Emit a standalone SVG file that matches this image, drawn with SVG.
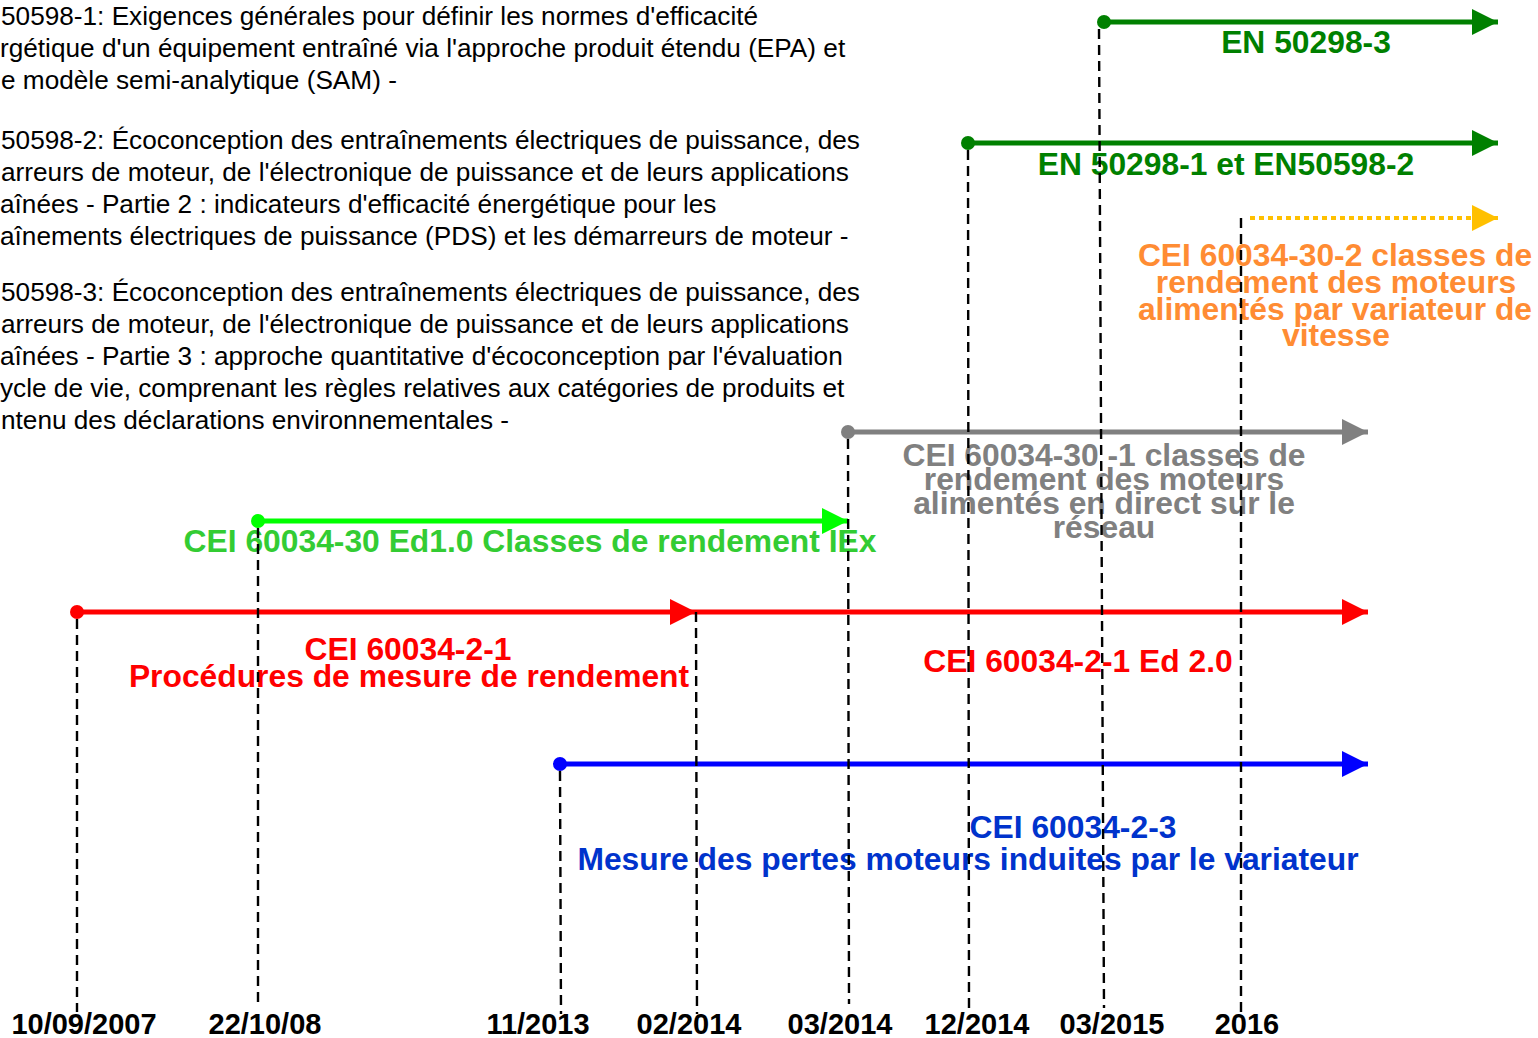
<svg xmlns="http://www.w3.org/2000/svg" width="1538" height="1038" viewBox="0 0 1538 1038">
  <style>
    .note { font-family: "Liberation Sans", Arial, sans-serif; font-size: 26.2px; fill: #000000; }
    .lbl { font-family: "Liberation Sans", Arial, sans-serif; font-weight: bold; font-size: 31.8px; text-anchor: middle; }
    .date { font-family: "Liberation Sans", Arial, sans-serif; font-weight: bold; font-size: 29px; text-anchor: middle; fill: #000000; }
    .bar { stroke-width: 5; fill: none; }
    .guide { stroke: #000000; stroke-width: 2.4; stroke-dasharray: 10 6; fill: none; }
  </style>
  <defs>
    <marker id="head-dkgreen" markerUnits="userSpaceOnUse" markerWidth="28" markerHeight="26" refX="26" refY="13" orient="auto"><path d="M0,0 L26,13 L0,26 Z" fill="#008000"/></marker>
    <marker id="head-yellow" markerUnits="userSpaceOnUse" markerWidth="28" markerHeight="26" refX="26" refY="13" orient="auto"><path d="M0,0 L26,13 L0,26 Z" fill="#FFC000"/></marker>
    <marker id="head-gray" markerUnits="userSpaceOnUse" markerWidth="28" markerHeight="26" refX="26" refY="13" orient="auto"><path d="M0,0 L26,13 L0,26 Z" fill="#808080"/></marker>
    <marker id="head-lime" markerUnits="userSpaceOnUse" markerWidth="28" markerHeight="26" refX="26" refY="13" orient="auto"><path d="M0,0 L26,13 L0,26 Z" fill="#00FF00"/></marker>
    <marker id="head-red" markerUnits="userSpaceOnUse" markerWidth="28" markerHeight="26" refX="26" refY="13" orient="auto"><path d="M0,0 L26,13 L0,26 Z" fill="#FF0000"/></marker>
    <marker id="head-blue" markerUnits="userSpaceOnUse" markerWidth="28" markerHeight="26" refX="26" refY="13" orient="auto"><path d="M0,0 L26,13 L0,26 Z" fill="#0000FF"/></marker>
  </defs>

  <rect x="0" y="0" width="1538" height="1038" fill="#FFFFFF"/>

  <!-- descriptive notes, top left -->
  <g id="notes">
    <text class="note" x="1" y="25">50598-1: Exigences générales pour définir les normes d'efficacité</text>
    <text class="note" x="0" y="57">rgétique d'un équipement entraîné via l'approche produit étendu (EPA) et</text>
    <text class="note" x="1" y="89">e modèle semi-analytique (SAM) -</text>
    <text class="note" x="1" y="149">50598-2: Écoconception des entraînements électriques de puissance, des</text>
    <text class="note" x="1" y="181">arreurs de moteur, de l'électronique de puissance et de leurs applications</text>
    <text class="note" x="0" y="213">aînées - Partie 2 : indicateurs d'efficacité énergétique pour les</text>
    <text class="note" x="0" y="245">aînements électriques de puissance (PDS) et les démarreurs de moteur -</text>
    <text class="note" x="1" y="301">50598-3: Écoconception des entraînements électriques de puissance, des</text>
    <text class="note" x="1" y="333">arreurs de moteur, de l'électronique de puissance et de leurs applications</text>
    <text class="note" x="0" y="365">aînées - Partie 3 : approche quantitative d'écoconception par l'évaluation</text>
    <text class="note" x="0" y="397">ycle de vie, comprenant les règles relatives aux catégories de produits et</text>
    <text class="note" x="1" y="429">ntenu des déclarations environnementales -</text>
  </g>

  <!-- standards on the timeline -->
  <g id="en50298-3">
    <line class="bar" x1="1104" y1="22" x2="1498" y2="22" stroke="#008000" marker-end="url(#head-dkgreen)"/>
    <circle cx="1104" cy="22" r="7" fill="#008000"/>
    <text class="lbl" x="1306" y="53" fill="#008000">EN 50298-3</text>
  </g>

  <g id="en50298-1">
    <line class="bar" x1="968" y1="143" x2="1498" y2="143" stroke="#008000" marker-end="url(#head-dkgreen)"/>
    <circle cx="968" cy="143" r="7" fill="#008000"/>
    <text class="lbl" x="1226" y="175" fill="#008000">EN 50298-1 et EN50598-2</text>
  </g>

  <g id="cei60034-30-2">
    <line x1="1250" y1="218" x2="1498" y2="218" stroke="#FFC000" stroke-width="4" stroke-dasharray="5 4" marker-end="url(#head-yellow)"/>
    <g class="lbl" fill="#FF8C33">
      <text x="1335" y="266">CEI 60034-30-2 classes de</text>
      <text x="1336" y="293">rendement des moteurs</text>
      <text x="1335" y="320">alimentés par variateur de</text>
      <text x="1336" y="346">vitesse</text>
    </g>
  </g>

  <g id="cei60034-30-1">
    <line class="bar" x1="848" y1="432" x2="1368" y2="432" stroke="#808080" marker-end="url(#head-gray)"/>
    <circle cx="848" cy="432" r="7" fill="#808080"/>
    <g class="lbl" fill="#808080">
      <text x="1104" y="466">CEI 60034-30 -1 classes de</text>
      <text x="1104" y="490">rendement des moteurs</text>
      <text x="1104" y="514">alimentés en direct sur le</text>
      <text x="1104" y="538">réseau</text>
    </g>
  </g>

  <g id="cei60034-30">
    <line class="bar" x1="258" y1="521" x2="848" y2="521" stroke="#00FF00" marker-end="url(#head-lime)"/>
    <circle cx="258" cy="521" r="7" fill="#00FF00"/>
    <text class="lbl" x="530" y="552" fill="#33CC33">CEI 60034-30 Ed1.0 Classes de rendement IEx</text>
  </g>

  <g id="cei60034-2-1">
    <line class="bar" x1="77" y1="612" x2="696" y2="612" stroke="#FF0000" marker-end="url(#head-red)"/>
    <circle cx="77" cy="612" r="7" fill="#FF0000"/>
    <text class="lbl" x="408" y="660" fill="#FF0000">CEI 60034-2-1</text>
    <text class="lbl" x="409" y="687" fill="#FF0000">Procédures de mesure de rendement</text>
  </g>

  <g id="cei60034-2-1-ed2">
    <line class="bar" x1="696" y1="612" x2="1368" y2="612" stroke="#FF0000" marker-end="url(#head-red)"/>
    <text class="lbl" x="1078" y="672" fill="#FF0000">CEI 60034-2-1 Ed 2.0</text>
  </g>

  <g id="cei60034-2-3">
    <line class="bar" x1="560" y1="764" x2="1368" y2="764" stroke="#0000FF" marker-end="url(#head-blue)"/>
    <circle cx="560" cy="764" r="7" fill="#0000FF"/>
    <text class="lbl" x="1073" y="838" fill="#0033CC">CEI 60034-2-3</text>
    <text class="lbl" x="968" y="870" fill="#0033CC">Mesure des pertes moteurs induites par le variateur</text>
  </g>

  <!-- date labels -->
  <g id="dates">
    <text class="date" x="84" y="1034">10/09/2007</text>
    <text class="date" x="265" y="1034">22/10/08</text>
    <text class="date" x="538" y="1034">11/2013</text>
    <text class="date" x="689" y="1034">02/2014</text>
    <text class="date" x="840" y="1034">03/2014</text>
    <text class="date" x="977" y="1034">12/2014</text>
    <text class="date" x="1112" y="1034">03/2015</text>
    <text class="date" x="1247" y="1034">2016</text>
  </g>

  <!-- dashed date guides -->
  <g id="connectors">
    <line class="guide" x1="77" y1="619" x2="77" y2="1012"/>
    <line class="guide" x1="258" y1="528" x2="258" y2="1008"/>
    <line class="guide" x1="560" y1="771" x2="561" y2="1014"/>
    <line class="guide" x1="696" y1="612" x2="697" y2="1014"/>
    <line class="guide" x1="848" y1="439" x2="849" y2="1004"/>
    <line class="guide" x1="968" y1="150" x2="969" y2="1012"/>
    <line class="guide" x1="1099" y1="29" x2="1104" y2="1008"/>
    <line class="guide" x1="1241" y1="218" x2="1241" y2="1012"/>
  </g>
</svg>
